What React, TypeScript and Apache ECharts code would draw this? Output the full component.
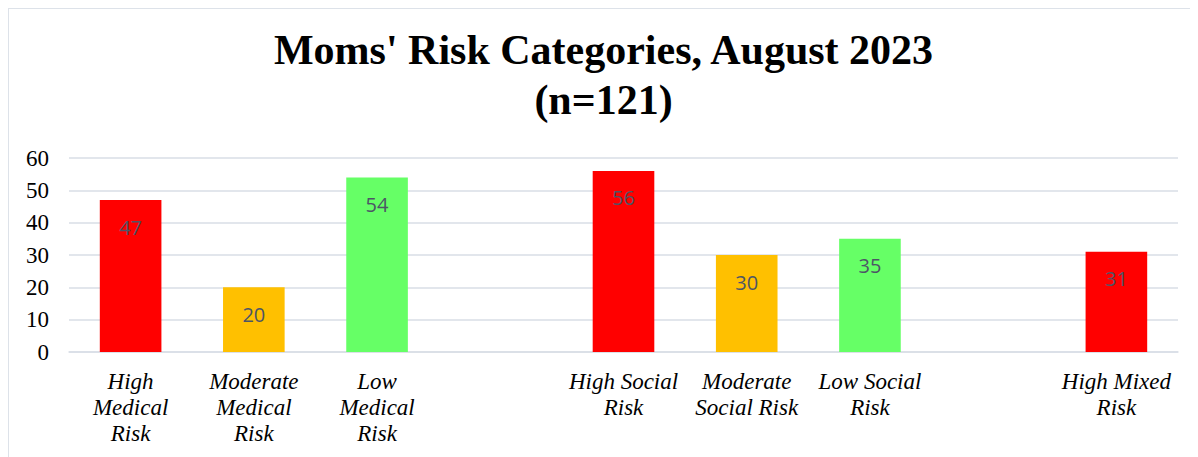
import React, { useEffect, useRef } from "react";
import * as echarts from "echarts";

const categories: string[] = [
  "High\nMedical\nRisk",
  "Moderate\nMedical\nRisk",
  "Low\nMedical\nRisk",
  "",
  "High Social\nRisk",
  "Moderate\nSocial Risk",
  "Low Social\nRisk",
  "",
  "High Mixed\nRisk",
];
const values: (number | null)[] = [47, 20, 54, null, 56, 30, 35, null, 31];
const barColors: string[] = [
  "#FF0000",
  "#FFC000",
  "#66FF66",
  "#FFFFFF",
  "#FF0000",
  "#FFC000",
  "#66FF66",
  "#FFFFFF",
  "#FF0000",
];
const yTicks = { min: 0, max: 60, interval: 10 };
const titleText = "Moms' Risk Categories, August 2023\n(n=121)";

export default function App() {
  const ref = useRef<HTMLDivElement>(null);
  useEffect(() => {
    if (!ref.current) return;
    const chart = echarts.init(ref.current, undefined, { renderer: "svg" });
    chart.setOption({
      animation: false,
      backgroundColor: "#ffffff",
      title: {
        text: titleText,
        left: "center",
        top: 11,
        textStyle: {
          fontFamily: "Liberation Serif, Times New Roman, serif",
          fontWeight: "bold",
          fontSize: 42,
          lineHeight: 50,
          color: "#000000",
        },
      },
      grid: { left: 60, right: 20, top: 149, bottom: 105, containLabel: false },
      xAxis: {
        type: "category",
        data: categories,
        axisLine: { show: true, lineStyle: { color: "#d9dee6", width: 1.5 } },
        axisTick: { show: false },
        axisLabel: {
          interval: 0,
          margin: 16,
          fontFamily: "Liberation Serif, Times New Roman, serif",
          fontStyle: "italic",
          fontSize: 23,
          lineHeight: 26,
          color: "#000000",
          align: "center",
        },
      },
      yAxis: {
        type: "value",
        min: yTicks.min,
        max: yTicks.max,
        interval: yTicks.interval,
        axisLine: { show: false },
        axisTick: { show: false },
        splitLine: { lineStyle: { color: "#d9dee6", width: 1.5 } },
        axisLabel: {
          margin: 20,
          fontFamily: "Liberation Serif, Times New Roman, serif",
          fontSize: 23,
          color: "#000000",
        },
      },
      series: [
        {
          type: "bar",
          barWidth: "50%",
          data: values.map((v, i) => ({
            value: v,
            itemStyle: { color: barColors[i] },
          })),
          label: {
            show: true,
            position: "insideTop",
            distance: 17,
            fontFamily: "Open Sans, Noto Sans, sans-serif",
            fontSize: 20,
            color: "#4d5566",
          },
        },
      ],
    });
    return () => chart.dispose();
  }, []);
  return (
    <div
      style={{
        width: 1190,
        height: 449,
        boxSizing: "border-box",
        borderTop: "1px solid #dde2e9",
        borderLeft: "1px solid #dde2e9",
      }}
    >
      <div ref={ref} style={{ width: 1189, height: 448 }} />
    </div>
  );
}
